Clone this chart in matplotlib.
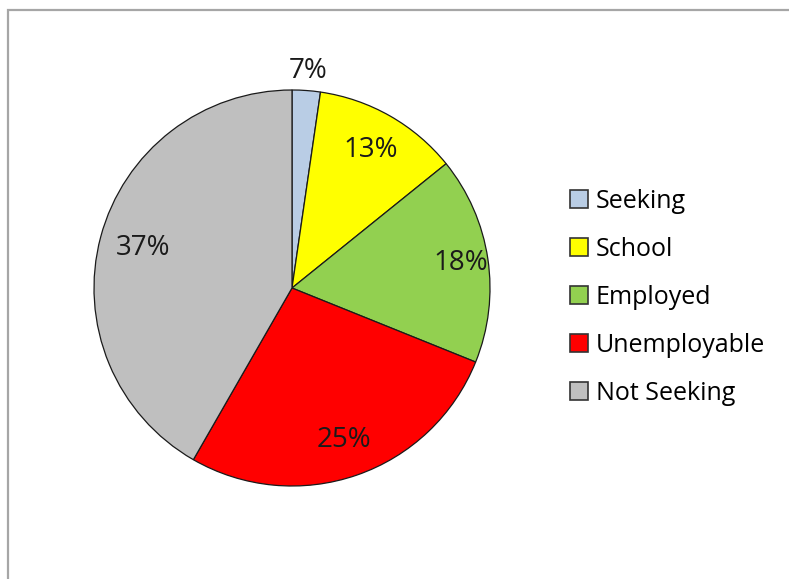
import matplotlib.pyplot as plt
import matplotlib.patches as mpatches
import numpy as np

# data (slice sizes as drawn, labels as printed)
categories = ["Seeking", "School", "Employed", "Unemployable", "Not Seeking"]
slice_sizes = [2.3, 11.9, 16.9, 27.2, 41.7]
pct_labels = ["7%", "13%", "18%", "25%", "37%"]
colors = ["#B9CDE5", "#FFFF00", "#92D050", "#FF0000", "#BFBFBF"]

# how far from the centre each label sits (fraction of the radius)
label_dist = [1.1, 0.8, 0.86, 0.81, 0.78]

plt.rcParams["font.family"] = ["Open Sans", "DejaVu Sans"]

W, H = 789, 579
fig = plt.figure(figsize=(W / 100, H / 100), dpi=100)
fig.patch.set_facecolor("white")

# grey chart frame (runs off the right and bottom edges)
fig.patches.append(mpatches.Rectangle((8 / W, -0.1), 1.2, 1 - 10 / H + 0.1,
                                      transform=fig.transFigure, fill=False,
                                      edgecolor="#A6A6A6", linewidth=1.6))

# pie centre ~ (292, 288) px, radius ~198 px
cx, cy, r = 292, 288, 198
ax = fig.add_axes([(cx - r) / W, (H - cy - r) / H, 2 * r / W, 2 * r / H])
wedges, _ = ax.pie(slice_sizes, colors=colors, startangle=90, counterclock=False,
                   wedgeprops=dict(edgecolor="#1a1a1a", linewidth=0.9))
ax.set_xlim(-1, 1)
ax.set_ylim(-1, 1)
ax.set_aspect("equal")
ax.axis("off")

for w, lab, d in zip(wedges, pct_labels, label_dist):
    mid = np.deg2rad((w.theta1 + w.theta2) / 2)
    ax.text(d * np.cos(mid), d * np.sin(mid), lab, ha="center", va="center",
            fontsize=20, color="#1a1a1a")

handles = [mpatches.Patch(facecolor=c, edgecolor="#333333", linewidth=1.2, label=n)
           for c, n in zip(colors, categories)]
fig.legend(handles=handles, loc="center left", bbox_to_anchor=(570 / W, 1 - 297 / H),
           frameon=False, fontsize=18, handlelength=0.7, handleheight=0.7,
           handletextpad=0.33, labelspacing=0.92, borderpad=0, borderaxespad=0)

plt.savefig("out.png", dpi=100)
